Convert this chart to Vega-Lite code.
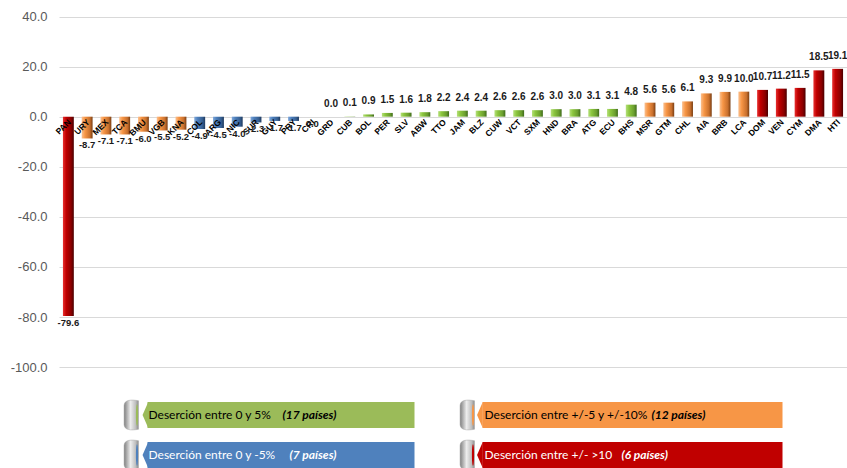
{
  "$schema": "https://vega.github.io/schema/vega-lite/v6.json",
  "width": 847,
  "height": 468,
  "autosize": {"type": "fit", "contains": "padding"},
  "padding": {"left": 10, "top": 0, "right": 0, "bottom": 0},
  "background": "white",
  "config": {
    "view": {"stroke": null},
    "font": "Liberation Sans",
    "locale": {"number": {"decimal": ".", "thousands": ",", "grouping": [3], "currency": ["$", ""], "minus": "-"}}
  },
  "datasets": {
    "bars": [
      {"c": "PAN", "v": -79.6, "g": "red"},
      {"c": "URY", "v": -8.7, "g": "orange"},
      {"c": "MEX", "v": -7.1, "g": "orange"},
      {"c": "TCA", "v": -7.1, "g": "orange"},
      {"c": "BMU", "v": -6.0, "g": "orange"},
      {"c": "VGB", "v": -5.5, "g": "orange"},
      {"c": "KNA", "v": -5.2, "g": "orange"},
      {"c": "COL", "v": -4.9, "g": "blue"},
      {"c": "ARG", "v": -4.5, "g": "blue"},
      {"c": "NIC", "v": -4.0, "g": "blue"},
      {"c": "SUR", "v": -2.3, "g": "blue"},
      {"c": "GUY", "v": -1.7, "g": "blue"},
      {"c": "PRY", "v": -1.7, "g": "blue"},
      {"c": "CRI", "v": -0.01, "g": "blue"},
      {"c": "GRD", "v": 0.0, "g": "green"},
      {"c": "CUB", "v": 0.1, "g": "green"},
      {"c": "BOL", "v": 0.9, "g": "green"},
      {"c": "PER", "v": 1.5, "g": "green"},
      {"c": "SLV", "v": 1.6, "g": "green"},
      {"c": "ABW", "v": 1.8, "g": "green"},
      {"c": "TTO", "v": 2.2, "g": "green"},
      {"c": "JAM", "v": 2.4, "g": "green"},
      {"c": "BLZ", "v": 2.4, "g": "green"},
      {"c": "CUW", "v": 2.6, "g": "green"},
      {"c": "VCT", "v": 2.6, "g": "green"},
      {"c": "SXM", "v": 2.6, "g": "green"},
      {"c": "HND", "v": 3.0, "g": "green"},
      {"c": "BRA", "v": 3.0, "g": "green"},
      {"c": "ATG", "v": 3.1, "g": "green"},
      {"c": "ECU", "v": 3.1, "g": "green"},
      {"c": "BHS", "v": 4.8, "g": "green"},
      {"c": "MSR", "v": 5.6, "g": "orange"},
      {"c": "GTM", "v": 5.6, "g": "orange"},
      {"c": "CHL", "v": 6.1, "g": "orange"},
      {"c": "AIA", "v": 9.3, "g": "orange"},
      {"c": "BRB", "v": 9.9, "g": "orange"},
      {"c": "LCA", "v": 10.0, "g": "orange"},
      {"c": "DOM", "v": 10.7, "g": "red"},
      {"c": "VEN", "v": 11.2, "g": "red"},
      {"c": "CYM", "v": 11.5, "g": "red"},
      {"c": "DMA", "v": 18.5, "g": "red"},
      {"c": "HTI", "v": 19.1, "g": "red"}
    ],
    "legend": [
      {"col": "L", "row": "0", "g": "green", "desc": "Deserción entre 0 y 5%", "cnt": "(17 países)"},
      {"col": "R", "row": "0", "g": "orange", "desc": "Deserción entre  +/-5 y +/-10%", "cnt": "(12 países)"},
      {"col": "L", "row": "1", "g": "blue", "desc": "Deserción entre  0 y -5%", "cnt": "(7 países)"},
      {"col": "R", "row": "1", "g": "red", "desc": "Deserción entre  +/- >10", "cnt": "(6 países)"}
    ]
  },
  "layer": [
    {
      "data": {"name": "bars"},
      "encoding": {
        "x": {"field": "c", "type": "nominal", "sort": null, "axis": null,
              "scale": {"paddingInner": 0.42, "paddingOuter": 0.21}}
      },
      "layer": [
        {
          "mark": {"type": "bar"},
          "encoding": {
            "y": {"field": "v", "type": "quantitative",
                  "scale": {"domain": [-139.1, 46.6], "nice": false, "zero": false},
                  "axis": {"values": [-100, -80, -60, -40, -20, 0, 20, 40], "format": ".1f",
                           "grid": true, "gridColor": "#D9D9D9", "gridWidth": 1, "domain": false,
                           "ticks": false, "labelPadding": 12, "labelFontSize": 13,
                           "labelColor": "#595959", "title": null}},
            "color": {
              "condition": [
                {"test": "datum.g === 'red'", "value": {"gradient": "linear", "x1": 0, "y1": 0, "x2": 1, "y2": 0,
                  "stops": [{"offset": 0, "color": "#E83030"}, {"offset": 0.3, "color": "#C00000"}, {"offset": 0.75, "color": "#8A0000"}, {"offset": 1, "color": "#4A0000"}]}},
                {"test": "datum.g === 'orange'", "value": {"gradient": "linear", "x1": 0, "y1": 0, "x2": 1, "y2": 0,
                  "stops": [{"offset": 0, "color": "#FAC08F"}, {"offset": 0.3, "color": "#F79646"}, {"offset": 0.75, "color": "#C9702D"}, {"offset": 1, "color": "#7A3E12"}]}},
                {"test": "datum.g === 'blue'", "value": {"gradient": "linear", "x1": 0, "y1": 0, "x2": 1, "y2": 0,
                  "stops": [{"offset": 0, "color": "#7FA7DA"}, {"offset": 0.3, "color": "#4F81BD"}, {"offset": 0.75, "color": "#365F91"}, {"offset": 1, "color": "#1F3A5F"}]}}
              ],
              "value": {"gradient": "linear", "x1": 0, "y1": 0, "x2": 1, "y2": 0,
                "stops": [{"offset": 0, "color": "#B5E07A"}, {"offset": 0.3, "color": "#8CC63F"}, {"offset": 0.75, "color": "#6A9E2E"}, {"offset": 1, "color": "#3F6B1A"}]}
            }
          }
        },
        {
          "mark": {"type": "text", "angle": -45, "align": "right", "baseline": "middle",
                   "fontSize": 8.5, "fontWeight": "bold",
                   "color": "#000000", "xOffset": 1, "yOffset": 4},
          "encoding": {
            "y": {"datum": 0, "type": "quantitative"},
            "text": {"field": "c"}
          }
        },
        {
          "transform": [{"filter": "datum.v >= 0"}],
          "mark": {"type": "text", "baseline": "bottom", "dy": -8,
                   "fontSize": 10, "fontWeight": "bold", "color": "#1A1A1A"},
          "encoding": {
            "y": {"field": "v", "type": "quantitative"},
            "text": {"field": "v", "type": "quantitative", "format": ".1f"}
          }
        },
        {
          "transform": [{"filter": "datum.v < 0"}],
          "mark": {"type": "text", "baseline": "top", "dy": 2,
                   "fontSize": 9.5, "fontWeight": "bold", "color": "#1A1A1A"},
          "encoding": {
            "y": {"field": "v", "type": "quantitative"},
            "text": {"field": "v", "type": "quantitative", "format": ".1f"}
          }
        }
      ]
    },
    {
      "data": {"name": "legend"},
      "encoding": {
        "x": {"field": "col", "type": "nominal", "axis": null,
              "scale": {"domain": ["L", "R"], "range": [89.5, 761.5], "paddingInner": 0, "paddingOuter": 0}},
        "y": {"field": "row", "type": "nominal", "axis": null,
              "scale": {"domain": ["0", "1"], "range": [402, 468], "paddingInner": 0.35, "paddingOuter": 0}},
        "color": {
          "condition": [
            {"test": "datum.g === 'red'", "value": "#C00000"},
            {"test": "datum.g === 'orange'", "value": "#F79646"},
            {"test": "datum.g === 'blue'", "value": "#4F81BD"}
          ],
          "value": "#9BBB59"
        }
      },
      "layer": [
        {
          "transform": [{"filter": "datum.col === 'L'"}],
          "mark": {"type": "rect", "width": 267, "xOffset": -35.5}
        },
        {
          "transform": [{"filter": "datum.col === 'R'"}],
          "mark": {"type": "rect", "width": 300, "xOffset": -20}
        },
        {
          "transform": [{"filter": "datum.col === 'L'"}],
          "mark": {"type": "point", "filled": true, "opacity": 1, "size": 676, "xOffset": -0.5,
                   "shape": "M-0.42,0L0.02,-1L0.02,1Z"},
          "encoding": {"x": {"field": "col", "type": "nominal", "bandPosition": 0}}
        },
        {
          "transform": [{"filter": "datum.col === 'R'"}],
          "mark": {"type": "point", "filled": true, "opacity": 1, "size": 676, "xOffset": -2,
                   "shape": "M-0.42,0L0.02,-1L0.02,1Z"},
          "encoding": {"x": {"field": "col", "type": "nominal", "bandPosition": 0}}
        },
        {
          "mark": {"type": "point", "filled": true, "opacity": 1, "size": 961, "xOffset": -17,
                   "shape": "M-0.48,-0.6C-0.48,-1,0.0,-1,0.45,-0.92L0.45,0.92C0.0,1,-0.48,1,-0.48,0.6Z",
                   "fill": {"gradient": "linear", "x1": 0, "y1": 0, "x2": 1, "y2": 0,
                            "stops": [{"offset": 0, "color": "#7F7F7F"}, {"offset": 0.45, "color": "#EDEDED"}, {"offset": 0.8, "color": "#BFBFBF"}, {"offset": 1, "color": "#8C8C8C"}]},
                   "stroke": "#A6A6A6", "strokeWidth": 0.5},
          "encoding": {"x": {"field": "col", "type": "nominal", "bandPosition": 0}, "color": null}
        },
        {
          "mark": {"type": "point", "filled": true, "opacity": 1, "size": 576, "xOffset": -11.5,
                   "shape": "M-0.09,0C-0.09,-0.55,-0.05,-0.9,0,-0.9C0.05,-0.9,0.09,-0.55,0.09,0C0.09,0.55,0.05,0.9,0,0.9C-0.05,0.9,-0.09,0.55,-0.09,0Z"},
          "encoding": {"x": {"field": "col", "type": "nominal", "bandPosition": 0}}
        },
        {
          "mark": {"type": "text", "align": "left", "baseline": "middle", "font": "Lato", "fontSize": 12},
          "encoding": {
            "x": {"field": "col", "type": "nominal", "bandPosition": 0},
            "text": {"field": "desc"},
            "color": {"condition": {"test": "datum.g === 'red' || datum.g === 'blue'", "value": "#FFFFFF"}, "value": "#000000"}
          }
        },
        {
          "transform": [{"filter": "datum.g === 'green'"}],
          "mark": {"type": "text", "align": "left", "baseline": "middle", "font": "Lato", "fontSize": 12, "fontWeight": "bold", "fontStyle": "italic", "dx": 134, "color": "#000000"},
          "encoding": {"x": {"field": "col", "type": "nominal", "bandPosition": 0}, "text": {"field": "cnt"}, "color": null}
        },
        {
          "transform": [{"filter": "datum.g === 'orange'"}],
          "mark": {"type": "text", "align": "left", "baseline": "middle", "font": "Lato", "fontSize": 12, "fontWeight": "bold", "fontStyle": "italic", "dx": 167, "color": "#000000"},
          "encoding": {"x": {"field": "col", "type": "nominal", "bandPosition": 0}, "text": {"field": "cnt"}, "color": null}
        },
        {
          "transform": [{"filter": "datum.g === 'blue'"}],
          "mark": {"type": "text", "align": "left", "baseline": "middle", "font": "Lato", "fontSize": 12, "fontWeight": "bold", "fontStyle": "italic", "dx": 141, "color": "#FFFFFF"},
          "encoding": {"x": {"field": "col", "type": "nominal", "bandPosition": 0}, "text": {"field": "cnt"}, "color": null}
        },
        {
          "transform": [{"filter": "datum.g === 'red'"}],
          "mark": {"type": "text", "align": "left", "baseline": "middle", "font": "Lato", "fontSize": 12, "fontWeight": "bold", "fontStyle": "italic", "dx": 137, "color": "#FFFFFF"},
          "encoding": {"x": {"field": "col", "type": "nominal", "bandPosition": 0}, "text": {"field": "cnt"}, "color": null}
        }
      ]
    }
  ],
  "resolve": {"scale": {"x": "independent", "y": "independent"}}
}
